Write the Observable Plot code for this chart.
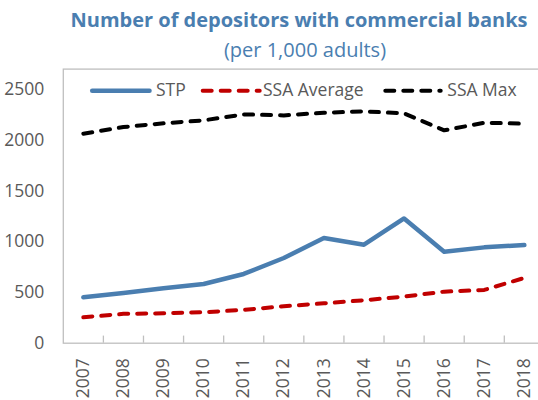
<!DOCTYPE html>
<html>
<head>
<meta charset="utf-8">
<script src="https://cdn.jsdelivr.net/npm/d3@7"></script>
<script src="https://cdn.jsdelivr.net/npm/@observablehq/plot@0.6"></script>
<style>
  html, body { margin: 0; padding: 0; background: #fff; overflow: hidden; width: 538px; height: 400px; }
  #wrap { position: relative; width: 538px; height: 400px; font-family: "Open Sans", sans-serif; }
  #head { display: block; }
  #chart svg { overflow: visible; display: block; }
  #legend { position: absolute; left: 0; top: 0; pointer-events: none; }
</style>
</head>
<body>
<div id="wrap">
  <svg id="head" width="538" height="62">
    <text x="299" y="27" text-anchor="middle" font-family="Open Sans" font-weight="bold" font-size="20" fill="#4a7eb0">Number of depositors with commercial banks</text>
    <text x="305" y="56.6" text-anchor="middle" font-family="Open Sans" font-size="20" fill="#4a7eb0">(per 1,000 adults)</text>
  </svg>
  <div id="chart"></div>
  <svg id="legend" width="538" height="400"></svg>
</div>
<script>
// ---- data ----
const years   = [2007, 2008, 2009, 2010, 2011, 2012, 2013, 2014, 2015, 2016, 2017, 2018];
const stp     = [452, 495, 541, 583, 682, 839, 1036, 970, 1229, 901, 944, 967];
const ssaAvg  = [256, 289, 295, 305, 328, 364, 393, 423, 459, 508, 525, 643];
const ssaMax  = [2064, 2129, 2166, 2195, 2254, 2244, 2270, 2284, 2264, 2097, 2172, 2162];
const yTicks  = [0, 500, 1000, 1500, 2000, 2500];
const seriesNames = ["STP", "SSA Average", "SSA Max"];

// ---- styles ----
const colors = {"STP": "#4a7eb0", "SSA Average": "#c00000", "SSA Max": "#000000"};
const dashes = {"STP": null, "SSA Average": "9,9", "SSA Max": "9,9"};
const widths = {"STP": 4.5, "SSA Average": 4, "SSA Max": 4};
const textColor = "#595959";
const axisColor = "#bfbfbf";

const seriesValues = {"STP": stp, "SSA Average": ssaAvg, "SSA Max": ssaMax};
const rows = seriesNames.flatMap(s => years.map((yr, i) => ({series: s, year: yr, value: seriesValues[s][i]})));
const boundaries = years.slice(1).map(yr => yr - 0.5);

const lineMarks = seriesNames.map(s => Plot.line(rows.filter(d => d.series === s), {
  x: "year", y: "value",
  stroke: colors[s], strokeWidth: widths[s],
  strokeDasharray: dashes[s] || undefined,
  strokeLinecap: "round", strokeLinejoin: "round"
}));

const chart = Plot.plot({
  width: 538,
  height: 338,
  marginTop: 6.6,
  marginBottom: 57.3,
  marginLeft: 62.8,
  marginRight: -5.9,
  style: {fontFamily: "Open Sans", fontSize: "17.5px", color: textColor, background: "transparent", overflow: "visible"},
  x: {domain: [years[0] - 0.5, years[years.length - 1] + 0.5]},
  y: {domain: [0, 2700]},
  marks: [
    Plot.frame({stroke: axisColor, strokeWidth: 1.3}),
    Plot.ruleX(boundaries, {y1: 0, y2: 70, stroke: axisColor, strokeWidth: 1.3}),
    Plot.axisY({ticks: yTicks, tickFormat: d => String(d), tickSize: 0, tickPadding: 19, label: null, fill: textColor}),
    Plot.axisX({ticks: years, tickFormat: d => String(d), tickRotate: -90, tickSize: 0, tickPadding: 15, label: null, fill: textColor}),
    ...lineMarks
  ]
});
document.getElementById("chart").appendChild(chart);

// ---- legend overlay ----
const legend = d3.select("#legend");
const legItems = [
  {name: "STP", x1: 92.2, x2: 149.5, tx: 156},
  {name: "SSA Average", x1: 202.7, x2: 259.7, tx: 263},
  {name: "SSA Max", x1: 385.3, x2: 440.7, tx: 447.3}
];
const legY = 90.7;
legItems.forEach(it => {
  legend.append("line")
    .attr("x1", it.x1).attr("x2", it.x2).attr("y1", legY).attr("y2", legY)
    .attr("stroke", colors[it.name]).attr("stroke-width", widths[it.name])
    .attr("stroke-linecap", "round")
    .attr("stroke-dasharray", dashes[it.name]);
  legend.append("text")
    .attr("x", it.tx).attr("y", legY + 5)
    .attr("font-family", "Open Sans").attr("font-size", 17.5)
    .attr("fill", textColor)
    .text(it.name);
});
</script>
</body>
</html>
